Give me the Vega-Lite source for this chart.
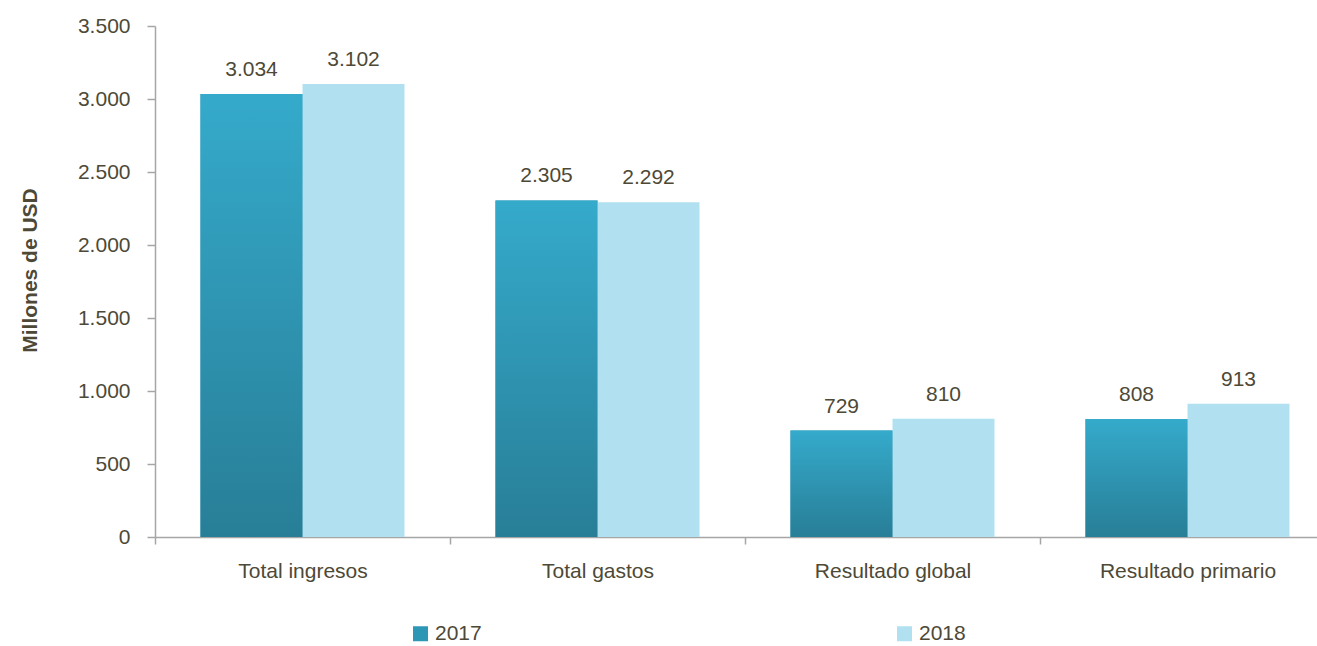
{
  "$schema": "https://vega.github.io/schema/vega-lite/v6.json",
  "width": 1180,
  "height": 511,
  "autosize": "none",
  "padding": {"left": 155, "top": 26, "right": 0, "bottom": 109},
  "background": "white",
  "config": {
    "locale": {"number": {"decimal": ",", "thousands": ".", "grouping": [3], "currency": ["$", ""]}},
    "view": {"stroke": null},
    "font": "Liberation Sans"
  },
  "data": {
    "values": [
      {"cat": "Total ingresos", "anio": "2017", "valor": 3034},
      {"cat": "Total ingresos", "anio": "2018", "valor": 3102},
      {"cat": "Total gastos", "anio": "2017", "valor": 2305},
      {"cat": "Total gastos", "anio": "2018", "valor": 2292},
      {"cat": "Resultado global", "anio": "2017", "valor": 729},
      {"cat": "Resultado global", "anio": "2018", "valor": 810},
      {"cat": "Resultado primario", "anio": "2017", "valor": 808},
      {"cat": "Resultado primario", "anio": "2018", "valor": 913}
    ]
  },
  "encoding": {
    "x": {
      "field": "cat", "type": "nominal",
      "sort": ["Total ingresos", "Total gastos", "Resultado global", "Resultado primario"],
      "scale": {"paddingInner": 0, "paddingOuter": 0},
      "axis": {
        "title": null, "labelAngle": 0, "labelFontSize": 21, "labelColor": "#4d4936",
        "labelPadding": 16, "tickBand": "extent", "tickSize": 7,
        "domainColor": "#a6a6a6", "tickColor": "#a6a6a6", "domainWidth": 1.5, "tickWidth": 1.5
      }
    },
    "xOffset": {"field": "anio", "type": "nominal", "scale": {"paddingInner": 0, "paddingOuter": 0.446}},
    "y": {
      "field": "valor", "type": "quantitative",
      "scale": {"domain": [0, 3500]},
      "axis": {
        "title": "Millones de USD", "values": [0, 500, 1000, 1500, 2000, 2500, 3000, 3500],
        "format": ",d", "grid": false,
        "labelFontSize": 21, "labelColor": "#4d4936", "labelPadding": 17, "tickSize": 8,
        "domainColor": "#a6a6a6", "tickColor": "#a6a6a6", "domainWidth": 1.5, "tickWidth": 1.5,
        "titleFontSize": 21, "titleFontWeight": "bold", "titleColor": "#4d4936",
        "titleAngle": -90, "titleX": -125, "titleY": 244, "titleAlign": "center", "titleBaseline": "middle"
      }
    }
  },
  "layer": [
    {
      "mark": {"type": "bar"},
      "encoding": {
        "color": {
          "field": "anio", "type": "nominal",
          "scale": {"domain": ["2017", "2018"], "range": ["#2f97b6", "#b1e1f0"]},
          "legend": {
            "title": null, "orient": "none", "legendX": 255, "legendY": 597,
            "direction": "horizontal", "columnPadding": 412,
            "symbolType": "square", "symbolSize": 225, "symbolStrokeWidth": 0,
            "labelFontSize": 21, "labelColor": "#4d4936", "labelOffset": 4
          }
        }
      }
    },
    {
      "transform": [{"filter": "datum.anio == '2017'"}],
      "mark": {
        "type": "bar",
        "color": {
          "gradient": "linear", "x1": 0, "y1": 0, "x2": 0, "y2": 1,
          "stops": [{"offset": 0, "color": "#35aacb"}, {"offset": 1, "color": "#287e97"}]
        }
      }
    },
    {
      "mark": {"type": "text", "dy": -18, "baseline": "alphabetic", "fontSize": 21, "color": "#4d4936"},
      "encoding": {"text": {"field": "valor", "type": "quantitative", "format": ",d"}}
    }
  ]
}
